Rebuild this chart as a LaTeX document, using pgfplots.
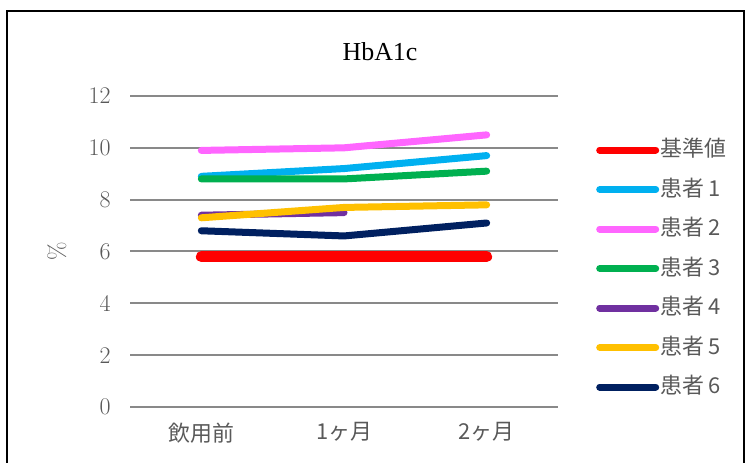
\documentclass[border=0pt]{standalone}
\usepackage{fontspec}
\usepackage{pgfplots}
\pgfplotsset{compat=1.18}
\newfontfamily\jp{Noto Sans CJK JP}
\newfontfamily\ser{Liberation Serif}
\definecolor{cRed}{HTML}{FF0000}
\definecolor{cBlue}{HTML}{00B0F0}
\definecolor{cPink}{HTML}{FF66FF}
\definecolor{cGreen}{HTML}{00B050}
\definecolor{cPurple}{HTML}{7030A0}
\definecolor{cYellow}{HTML}{FFC000}
\definecolor{cNavy}{HTML}{002060}
\definecolor{gridgray}{HTML}{898989}
\definecolor{txtgray}{HTML}{595959}
\begin{document}
\begin{tikzpicture}
\useasboundingbox (0bp,0bp) rectangle (747bp,463bp);
\draw[line width=2bp, black] (7bp,-10bp) -- (7bp,452bp) -- (744bp,452bp) -- (744bp,-10bp);
\node[font=\ser\fontsize{26}{30}\selectfont, text=black] at (380bp,411bp) {HbA1c};
\begin{axis}[
  at={(130bp,56bp)}, anchor=south west,
  scale only axis, width=428bp, height=311bp,
  xmin=-0.5, xmax=2.5, ymin=0, ymax=12,
  xtick={0,1,2}, xticklabels={飲用前,1ヶ月,2ヶ月},
  ytick={0,2,4,6,8,10,12},
  axis line style={draw=none},
  major tick length=0pt,
  ymajorgrids, major grid style={gridgray, line width=2bp},
  /pgf/number format/assume math mode=true,
  yticklabel style={font=\fontsize{24}{28}\selectfont, text=txtgray, xshift=-16bp},
  xticklabel style={font=\jp\fontsize{22}{26}\selectfont, text=txtgray, yshift=-12bp},
  ylabel={\%}, ylabel style={font=\fontsize{24}{28}\selectfont, text=txtgray, at={(axis description cs:-0.171,0.5)}, anchor=center},
  legend style={draw=none, fill=none, at={(1.0888,0.4453)}, anchor=west,
    font=\jp\fontsize{22}{26}\selectfont, text=txtgray,
    row sep=18.5bp, inner xsep=0pt, inner ysep=0pt,
    nodes={inner sep=0pt, text height=17bp, text depth=4bp},
    /tikz/column sep=1bp},
  legend cell align=left,
  legend image code/.code={\draw[#1, line width=7bp] (0bp,0bp) -- (56bp,0bp);},
  every axis plot/.append style={line cap=round, line join=round, line width=7bp},
]
\addplot[cRed, line width=11bp] coordinates {(0,5.8) (1,5.8) (2,5.8)};
\addlegendentry{基準値}
\addplot[cBlue] coordinates {(0,8.9) (1,9.2) (2,9.7)};
\addlegendentry{患者 1}
\addplot[cPink] coordinates {(0,9.9) (1,10.0) (2,10.5)};
\addlegendentry{患者 2}
\addplot[cGreen] coordinates {(0,8.8) (1,8.8) (2,9.1)};
\addlegendentry{患者 3}
\addplot[cPurple] coordinates {(0,7.4) (1,7.5)};
\addlegendentry{患者 4}
\addplot[cYellow] coordinates {(0,7.3) (1,7.7) (2,7.8)};
\addlegendentry{患者 5}
\addplot[cNavy] coordinates {(0,6.8) (1,6.6) (2,7.1)};
\addlegendentry{患者 6}
\end{axis}
\end{tikzpicture}
\end{document}
